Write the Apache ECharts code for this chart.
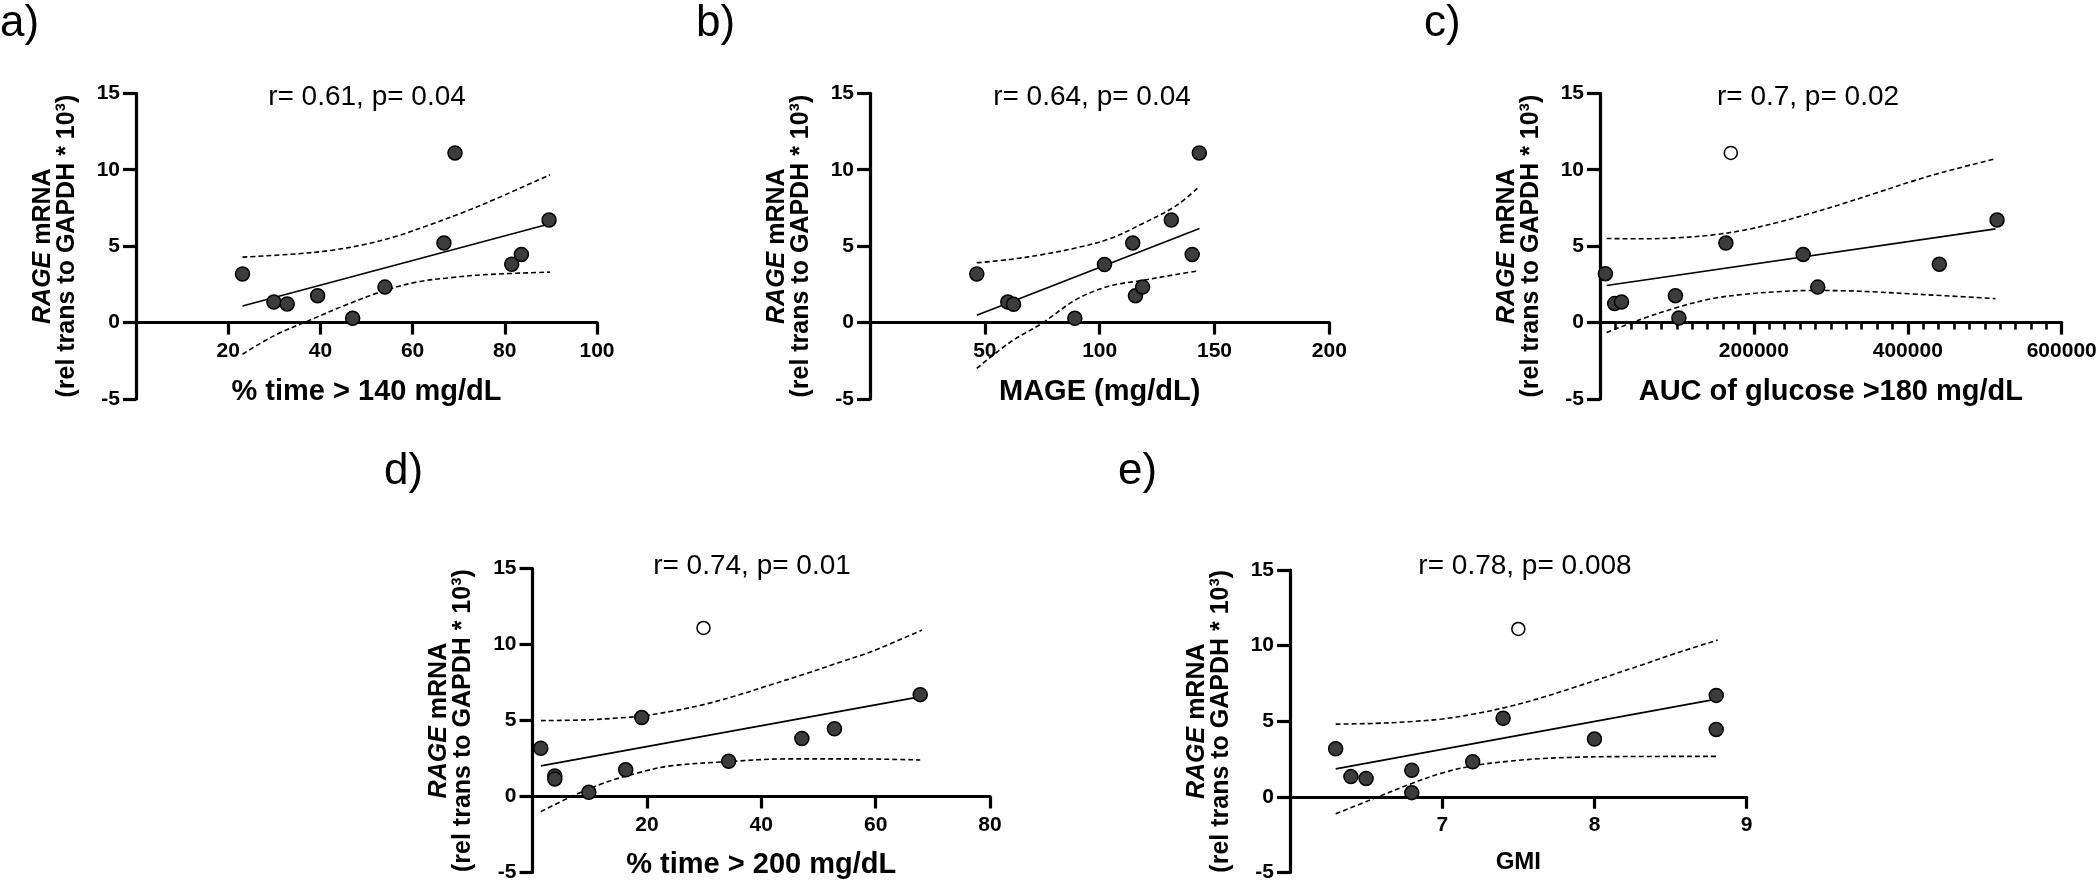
<!DOCTYPE html>
<html><head><meta charset="utf-8">
<script src="https://cdn.jsdelivr.net/npm/echarts@6/dist/echarts.min.js"></script>
<style>html,body{margin:0;padding:0;background:#fff}#chart{width:2100px;height:883px}</style>
</head><body><div id="chart"></div>
<script>
// ---------- DATA ----------
const yTicks = [-5, 0, 5, 10, 15];

// a) % time > 140 mg/dL
const aX = [23.1, 29.9, 32.8, 39.4, 47.0, 54.0, 66.8, 69.2, 81.5, 83.6, 89.6];
const aY = [3.18, 1.34, 1.22, 1.76, 0.28, 2.32, 5.2, 11.1, 3.82, 4.46, 6.71];
const aFitX = [23.1, 89.8], aFitY = [1.09, 6.46];
const aUpX = [23.1, 35, 42.2, 49.4, 56.5, 63.7, 70.9, 78.1, 89.8];
const aUpY = [4.28, 4.5, 4.72, 5.1, 5.65, 6.4, 7.2, 8.1, 9.67];
const aLoX = [23.1, 29.9, 37.8, 45, 53.7, 60.9, 68, 75.3, 89.8];
const aLoY = [-2.07, -0.87, 0.17, 1.09, 2.07, 2.65, 2.93, 3.13, 3.3];

// b) MAGE
const bX = [46.5, 60.0, 62.5, 89.2, 102.1, 114.4, 115.6, 118.7, 131.2, 140.3, 143.4];
const bY = [3.18, 1.34, 1.2, 0.28, 3.8, 5.2, 1.76, 2.32, 6.71, 4.46, 11.1];
const bFitX = [46.5, 143.5], bFitY = [0.48, 6.15];
const bUpX = [46.5, 60.9, 75.4, 89.9, 104.3, 118.8, 133.3, 143.5];
const bUpY = [3.91, 4.13, 4.46, 4.89, 5.48, 6.48, 7.65, 8.91];
const bLoX = [46.5, 60.9, 75.4, 89.9, 104.3, 118.8, 133.3, 142.8];
const bLoY = [-3.0, -1.3, 0, 1.52, 2.39, 2.76, 3.15, 3.37];

// c) AUC of glucose > 180 mg/dL
const cX = [7000, 19000, 28000, 98000, 102500, 163600, 264000, 283000, 441000, 516000];
const cY = [3.2, 1.24, 1.35, 1.76, 0.3, 5.2, 4.46, 2.32, 3.82, 6.71];
const cOutX = [170000], cOutY = [11.1];
const cFitX = [8600, 514000], cFitY = [2.43, 6.13];
const cUpX = [8600, 57900, 101000, 144000, 187500, 230700, 273900, 317000, 360000, 403000, 446600, 514000];
const cUpY = [5.5, 5.48, 5.55, 5.72, 6.05, 6.55, 7.15, 7.8, 8.5, 9.2, 9.85, 10.72];
const cLoX = [8600, 53600, 101000, 144000, 187500, 230700, 273900, 317000, 360000, 403000, 446600, 514000];
const cLoY = [-0.65, 0.22, 1.0, 1.55, 1.85, 2.02, 2.1, 2.08, 2.0, 1.88, 1.76, 1.57];
const cMinorTickStep = 20000;

// d) % time > 200 mg/dL
const dX = [1.45, 3.9, 3.9, 9.85, 16.3, 19.1, 34.3, 47.1, 52.8, 67.8];
const dY = [3.18, 1.36, 1.16, 0.28, 1.76, 5.2, 2.32, 3.82, 4.46, 6.71];
const dOutX = [29.9], dOutY = [11.1];
const dFitX = [1.46, 67.9], dFitY = [2.02, 6.58];
const dUpX = [1.46, 9.5, 15.3, 19.1, 24.1, 29.9, 35.7, 41.6, 47.5, 53.4, 59.3, 68.1];
const dUpY = [5.0, 5.05, 5.18, 5.3, 5.6, 6.05, 6.65, 7.35, 8.05, 8.8, 9.55, 10.96];
const dLoX = [1.46, 6.6, 12.4, 18.3, 24.1, 34.3, 44.5, 56.2, 67.8];
const dLoY = [-0.99, -0.04, 0.88, 1.54, 2.02, 2.3, 2.48, 2.48, 2.41];

// e) GMI
const eX = [6.3, 6.4, 6.5, 6.8, 6.8, 7.2, 7.4, 8.0, 8.8, 8.8];
const eY = [3.18, 1.34, 1.22, 1.76, 0.28, 2.32, 5.2, 3.82, 6.71, 4.46];
const eOutX = [7.5], eOutY = [11.1];
const eFitX = [6.3, 8.81], eFitY = [1.85, 6.48];
const eUpX = [6.3, 6.56, 6.78, 7.0, 7.21, 7.43, 7.65, 7.87, 8.09, 8.31, 8.53, 8.81];
const eUpY = [4.81, 4.86, 4.97, 5.15, 5.48, 5.95, 6.55, 7.25, 7.98, 8.72, 9.48, 10.37];
const eLoX = [6.3, 6.56, 6.78, 7.0, 7.21, 7.43, 7.65, 7.87, 8.09, 8.81];
const eLoY = [-1.12, -0.07, 0.81, 1.58, 2.07, 2.35, 2.53, 2.62, 2.66, 2.68];

const panelLabels = ['a)', 'b)', 'c)', 'd)', 'e)'];
const statTexts = ['r= 0.61, p= 0.04', 'r= 0.64, p= 0.04', 'r= 0.7, p= 0.02', 'r= 0.74, p= 0.01', 'r= 0.78, p= 0.008'];
const xNames = ['% time > 140 mg/dL', 'MAGE (mg/dL)', 'AUC of glucose >180 mg/dL', '% time > 200 mg/dL', 'GMI'];
const xMins = [0, 0, 0, 0, 6];
const xMaxs = [100, 200, 600000, 80, 9];
const xIntervals = [20, 50, 200000, 20, 1];
const yName = '{i|RAGE}{b| mRNA}\n{b|(rel trans to GAPDH * 10³)}';

// ---------- LAYOUT ----------
const FONT = '"Liberation Sans", Arial, Helvetica, sans-serif';
const grids = [
  {left: 136, top: 93.3, width: 461, height: 305.7},
  {left: 870, top: 93.3, width: 459.3, height: 305.7},
  {left: 1600, top: 93.3, width: 461.7, height: 305.7},
  {left: 532.5, top: 568.7, width: 457.5, height: 304},
  {left: 1290, top: 570, width: 456.7, height: 303}
];
const labelPos = [[0, 24], [696, 24], [1424, 24], [384, 472], [1118, 472]];
const statPos = [[367, 97], [1092, 97], [1808, 97], [752, 566.5], [1525, 566.5]];
const xNameSize = [29, 29, 29, 29, 24];
const xNameGap = [55, 55, 55, 54, 54];

const zip = (xs, ys) => xs.map((x, i) => [x, ys[i]]);
const panels = [
  {pts: zip(aX, aY), out: [], fit: zip(aFitX, aFitY), up: zip(aUpX, aUpY), lo: zip(aLoX, aLoY)},
  {pts: zip(bX, bY), out: [], fit: zip(bFitX, bFitY), up: zip(bUpX, bUpY), lo: zip(bLoX, bLoY)},
  {pts: zip(cX, cY), out: zip(cOutX, cOutY), fit: zip(cFitX, cFitY), up: zip(cUpX, cUpY), lo: zip(cLoX, cLoY)},
  {pts: zip(dX, dY), out: zip(dOutX, dOutY), fit: zip(dFitX, dFitY), up: zip(dUpX, dUpY), lo: zip(dLoX, dLoY)},
  {pts: zip(eX, eY), out: zip(eOutX, eOutY), fit: zip(eFitX, eFitY), up: zip(eUpX, eUpY), lo: zip(eLoX, eLoY)}
];

const axisLineStyle = {color: '#000', width: 3.2};
const tickLabel = {color: '#000', fontFamily: FONT, fontWeight: 'bold', fontSize: 21};
const yMin = yTicks[0], yMax = yTicks[yTicks.length - 1];
const zeroOffset = i => -grids[i].height * (0 - yMin) / (yMax - yMin);

const xAxes = [], yAxes = [], series = [], graphic = [];
panels.forEach((p, i) => {
  // put the x axis on the y = 0 line (axis, ticks, labels and name move together)
  xAxes.push({
    gridIndex: i, type: 'value', min: xMins[i], max: xMaxs[i], interval: xIntervals[i],
    position: 'bottom', offset: zeroOffset(i),
    axisLine: {show: true, onZero: false, lineStyle: axisLineStyle},
    axisTick: {show: true, length: 12, lineStyle: {color: '#000', width: 3.2}},
    axisLabel: Object.assign({showMinLabel: false, margin: 18, formatter: v => String(v)}, tickLabel),
    splitLine: {show: false},
    name: xNames[i], nameLocation: 'middle', nameGap: xNameGap[i],
    nameTextStyle: {color: '#000', fontFamily: FONT, fontWeight: 'bold', fontSize: xNameSize[i]}
  });
  yAxes.push({
    gridIndex: i, type: 'value', min: yMin, max: yMax, interval: 5,
    axisLine: {show: true, onZero: false, lineStyle: axisLineStyle},
    axisTick: {show: true, length: 13, lineStyle: {color: '#000', width: 3.2}},
    axisLabel: Object.assign({margin: 16}, tickLabel),
    splitLine: {show: false},
    name: yName, nameLocation: 'middle', nameGap: 57, nameRotate: 90,
    nameTextStyle: {
      color: '#000', fontFamily: FONT, fontWeight: 'bold', fontSize: 25, lineHeight: 24,
      rich: {
        i: {fontFamily: FONT, fontWeight: 'bold', fontStyle: 'italic', fontSize: 25, lineHeight: 24, color: '#000'},
        b: {fontFamily: FONT, fontWeight: 'bold', fontSize: 25, lineHeight: 24, color: '#000'}
      }
    }
  });
  const lineBase = {type: 'line', xAxisIndex: i, yAxisIndex: i, showSymbol: false, symbol: 'none', silent: true, z: 2};
  series.push(Object.assign({}, lineBase, {data: p.fit, lineStyle: {color: '#000', width: 1.6}}));
  series.push(Object.assign({}, lineBase, {data: p.up, smooth: 0.35, lineStyle: {color: '#000', width: 1.6, type: [5, 3]}}));
  series.push(Object.assign({}, lineBase, {data: p.lo, smooth: 0.35, lineStyle: {color: '#000', width: 1.6, type: [5, 3]}}));
  series.push({type: 'scatter', xAxisIndex: i, yAxisIndex: i, data: p.pts, symbolSize: 14, z: 5,
    itemStyle: {color: '#3c3c3c', borderColor: '#000', borderWidth: 1.5, opacity: 1}});
  if (p.out.length) series.push({type: 'scatter', xAxisIndex: i, yAxisIndex: i, data: p.out, symbolSize: 13, z: 5,
    itemStyle: {color: '#fff', borderColor: '#000', borderWidth: 1.5, opacity: 1}});
  graphic.push({type: 'text', x: labelPos[i][0], y: labelPos[i][1],
    style: {text: panelLabels[i], font: '44px ' + FONT, fill: '#000', textAlign: 'left', textVerticalAlign: 'middle'}});
  graphic.push({type: 'text', x: statPos[i][0], y: statPos[i][1],
    style: {text: statTexts[i], font: '28px ' + FONT, fill: '#000', textAlign: 'center', textVerticalAlign: 'middle'}});
});

// extra tick-only x axis for the small ticks of panel c
xAxes.push({
  gridIndex: 2, type: 'value', min: xMins[2], max: xMaxs[2], interval: cMinorTickStep,
  position: 'bottom', offset: zeroOffset(2),
  axisLine: {show: false, onZero: false},
  axisTick: {show: true, length: 7, lineStyle: {color: '#000', width: 2.6}},
  axisLabel: {show: false}, splitLine: {show: false}
});

const chart = echarts.init(document.getElementById('chart'), null, {renderer: 'canvas'});
chart.setOption({
  animation: false,
  backgroundColor: '#fff',
  grid: grids.map(g => Object.assign({containLabel: false}, g)),
  xAxis: xAxes, yAxis: yAxes, series: series, graphic: graphic
});
</script></body></html>
